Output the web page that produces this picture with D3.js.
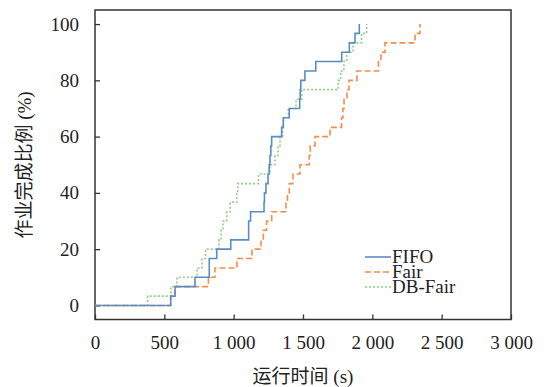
<!DOCTYPE html>
<html>
<head>
<meta charset="utf-8">
<script src="https://cdn.jsdelivr.net/npm/d3@7"></script>
<style>
  body { margin: 0; background: #fff; }
  text { font-family: "Liberation Serif", "Noto Sans CJK SC", serif; fill: #222; }
</style>
</head>
<body>
<div id="chart"></div>
<script>
// completion time (s) and share of jobs done (%) for each scheduler
var fifoTime = [0, 546, 577, 721, 824, 878, 979, 1108, 1122, 1219, 1222, 1233, 1248, 1256, 1262, 1268, 1274,
    1346, 1358, 1401, 1476, 1480, 1484, 1514, 1592, 1779, 1834, 1875, 1906];
var fifoPct = [0, 3.3, 6.7, 10, 16.7, 20, 23.3, 30, 33.3, 36.7, 40, 43.3, 46.7, 50, 53.3, 56.7, 60,
    63.3, 66.7, 70, 73.3, 76.7, 80, 83.3, 86.7, 90, 93.3, 96.7, 100];

var fairTime = [0, 546, 577, 818, 865, 1024, 1132, 1197, 1214, 1237, 1274, 1377, 1388, 1401, 1428, 1478,
    1545, 1552, 1587, 1695, 1778, 1788, 1796, 1817, 1832, 1889, 2044, 2062, 2091, 2308, 2344];
var fairPct = [0, 3.3, 6.7, 10, 13.3, 16.7, 20, 23.3, 26.7, 30, 33.3, 36.7, 40, 43.3, 46.7, 50,
    53.3, 56.7, 60, 63.3, 66.7, 70, 73.3, 76.7, 80, 83.3, 86.7, 90, 93.3, 96.7, 100];

var dbTime = [0, 379, 548, 591, 736, 772, 797, 894, 909, 923, 950, 975, 1022, 1030, 1179, 1262,
    1298, 1320, 1334, 1352, 1358, 1394, 1450, 1490, 1754, 1771, 1795, 1815, 1861, 1922, 1959];
var dbPct = [0, 3.3, 6.7, 10, 13.3, 16.7, 20, 23.3, 26.7, 30, 33.3, 36.7, 40, 43.3, 46.7, 50,
    53.3, 56.7, 60, 63.3, 66.7, 70, 73.3, 76.7, 80, 83.3, 86.7, 90, 93.3, 96.7, 100];

var xTicks = [0, 500, 1000, 1500, 2000, 2500, 3000];
var yTicks = [0, 20, 40, 60, 80, 100];
var seriesNames = ["FIFO", "Fair", "DB-Fair"];

var width = 544, height = 387;
var plotLeft = 95, plotRight = 511, plotTop = 10, plotBottom = 319.5;

var svg = d3.select("#chart").append("svg")
    .attr("width", width)
    .attr("height", height);

var x = d3.scaleLinear().domain([0, 3000]).range([plotLeft, plotRight]);
var y = d3.scaleLinear().domain([-5, 105]).range([plotBottom, plotTop]);

// "1 000" style numbers
var fmt = d3.formatLocale({ decimal: ".", thousands: " ", grouping: [3], currency: ["", ""] }).format(",");

var xAxis = svg.append("g")
    .attr("transform", "translate(0," + plotBottom + ")")
    .call(d3.axisBottom(x).tickValues(xTicks).tickFormat(fmt).tickSize(-5).tickPadding(16));
var yAxis = svg.append("g")
    .attr("transform", "translate(" + plotLeft + ",0)")
    .call(d3.axisLeft(y).tickValues(yTicks).tickSize(-5).tickPadding(16));

[xAxis, yAxis].forEach(function (g) {
    g.select(".domain").remove();
    g.selectAll(".tick line").attr("stroke", "#333").attr("stroke-width", 1.3);
    g.selectAll(".tick text").attr("font-size", 19).attr("font-family", "Liberation Serif").attr("fill", "#222");
});

// frame around the plot
svg.append("rect")
    .attr("x", plotLeft).attr("y", plotTop)
    .attr("width", plotRight - plotLeft).attr("height", plotBottom - plotTop)
    .attr("fill", "none")
    .attr("stroke", "#333")
    .attr("stroke-width", 1.5);

var colors = ["#5b8cc4", "#f58d4f", "#8fcd82"];
var dashes = [null, "6,3", "2,2"];
var series = [
    d3.zip(fifoTime, fifoPct),
    d3.zip(fairTime, fairPct),
    d3.zip(dbTime, dbPct)
];

var line = d3.line()
    .x(function (d) { return x(d[0]); })
    .y(function (d) { return y(d[1]); })
    .curve(d3.curveStepAfter);

// draw green first so the blue sits on top
[2, 1, 0].forEach(function (i) {
    svg.append("path")
        .datum(series[i])
        .attr("d", line)
        .attr("fill", "none")
        .attr("stroke", colors[i])
        .attr("stroke-width", 1.6)
        .attr("stroke-dasharray", dashes[i]);
});

// legend
var legend = svg.append("g");
seriesNames.forEach(function (name, i) {
    var ly = 257 + i * 15;
    legend.append("line")
        .attr("x1", 365).attr("x2", 391)
        .attr("y1", ly).attr("y2", ly)
        .attr("stroke", colors[i])
        .attr("stroke-width", 1.6)
        .attr("stroke-dasharray", dashes[i]);
    legend.append("text")
        .attr("x", 392).attr("y", ly + 6)
        .attr("font-size", 19)
        .text(name);
});

// axis titles
svg.append("text")
    .attr("x", 303).attr("y", 383)
    .attr("text-anchor", "middle")
    .attr("font-size", 19)
    .text("运行时间 (s)");

svg.append("text")
    .attr("transform", "translate(31,165) rotate(-90)")
    .attr("text-anchor", "middle")
    .attr("font-size", 19)
    .text("作业完成比例 (%)");
</script>
</body>
</html>
